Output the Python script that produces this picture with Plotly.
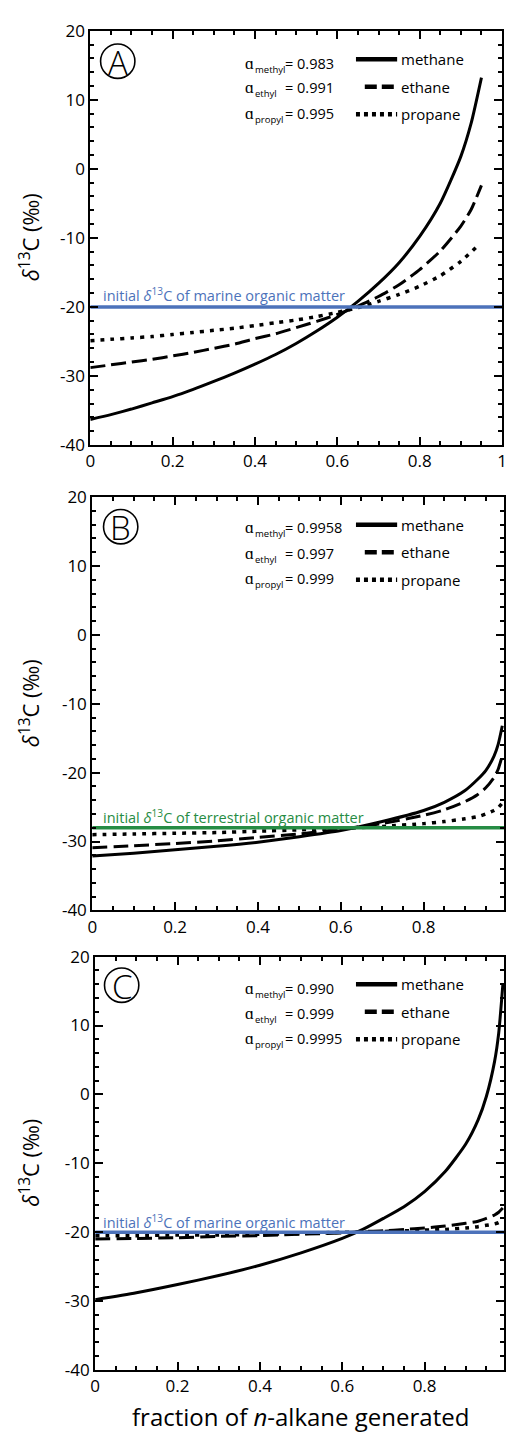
import plotly.graph_objects as go

W, H = 509, 1440
FONT = "Open Sans"

# ---------------- data ----------------
# Panel A: marine organic matter, strong fractionation
xa = [0, 0.05, 0.1, 0.15, 0.2, 0.25, 0.3, 0.35, 0.4, 0.45, 0.5, 0.55, 0.6, 0.65,
      0.7, 0.75, 0.8, 0.85, 0.9, 0.925, 0.95]
methane_a = [-36.3, -35.6, -34.8, -33.9, -33.0, -31.95, -30.8, -29.6, -28.3, -26.9, -25.3,
             -23.5, -21.5, -19.2, -16.6, -13.6, -9.8, -5.0, 1.8, 6.6, 13.2]
ethane_a = [-28.8, -28.4, -28.0, -27.6, -27.1, -26.6, -26.0, -25.4, -24.6, -23.9, -23.0,
            -22.1, -21.1, -19.9, -18.5, -16.8, -14.6, -11.9, -8.3, -5.9, -2.4]
xa_p = [0, 0.05, 0.1, 0.15, 0.2, 0.25, 0.3, 0.35, 0.4, 0.45, 0.5, 0.55, 0.6, 0.65,
        0.7, 0.75, 0.8, 0.85, 0.9, 0.94]
propane_a = [-24.9, -24.7, -24.5, -24.3, -24.0, -23.7, -23.4, -23.1, -22.7, -22.3, -21.9,
             -21.4, -20.8, -20.1, -19.2, -18.2, -17.0, -15.5, -13.4, -11.2]

# Panel B: terrestrial organic matter, weak fractionation
xb = [0, 0.1, 0.2, 0.3, 0.4, 0.5, 0.6, 0.7, 0.8, 0.85, 0.9, 0.93, 0.95, 0.97, 0.98, 0.99]
methane_b = [-32.1, -31.7, -31.2, -30.7, -30.1, -29.3, -28.4, -27.1, -25.5, -24.3, -22.6,
             -21.0, -19.7, -17.6, -15.9, -13.2]
ethane_b = [-30.9, -30.6, -30.3, -29.9, -29.4, -28.9, -28.2, -27.4, -26.2, -25.4, -24.2,
            -23.2, -22.2, -20.7, -19.5, -17.5]
propane_b = [-29.0, -28.9, -28.8, -28.7, -28.5, -28.3, -28.1, -27.8, -27.4, -27.1, -26.7,
             -26.4, -26.0, -25.5, -25.1, -24.4]

# Panel C: marine organic matter, methane-dominated fractionation
xc = [0, 0.1, 0.2, 0.3, 0.4, 0.5, 0.6, 0.65, 0.7, 0.75, 0.8, 0.85, 0.9, 0.93, 0.95,
      0.97, 0.98, 0.99]
methane_c = [-29.8, -28.8, -27.6, -26.3, -24.8, -23.0, -20.9, -19.6, -18.0, -16.3, -14.1,
             -11.2, -7.2, -3.7, -0.3, 4.8, 8.9, 15.9]
ethane_c = [-21.0, -20.9, -20.8, -20.6, -20.5, -20.3, -20.1, -19.9, -19.8, -19.6, -19.4,
            -19.1, -18.7, -18.4, -18.0, -17.5, -17.1, -16.5]
propane_c = [-20.5, -20.5, -20.4, -20.4, -20.3, -20.2, -20.0, -20.0, -19.9, -19.8, -19.7,
             -19.6, -19.4, -19.2, -19.0, -18.8, -18.6, -18.2]

# initial source values (horizontal reference lines)
ref_x = [0, 1]
initial_a = [-20, -20]
initial_b = [-28, -28]
initial_c = [-20, -20]

alpha_names = ["methyl", "ethyl", "propyl"]
alphas_a = ["0.983", "0.991", "0.995"]
alphas_b = ["0.9958", "0.997", "0.999"]
alphas_c = ["0.990", "0.999", "0.9995"]
gas_names = ["methane", "ethane", "propane"]

x_ticks = [0, 0.2, 0.4, 0.6, 0.8, 1]
x_ticktext = ["0", "0.2", "0.4", "0.6", "0.8", "1"]
y_ticks = [-40, -30, -20, -10, 0, 10, 20]
y_ticktext = ["-40", "-30", "-20", "-10", "0", "10", "20"]

BLUE = "rgb(76,114,186)"
GREEN = "rgb(38,140,68)"

# pixel boxes of the three panels: left, right, top, bottom
panels = [
    dict(l=87, r=507, t=19, b=440, xmax=1.0, letter="A",
         curves=[(xa, methane_a), (xa, ethane_a), (xa_p, propane_a)],
         ref=initial_a, refcol=BLUE, reftext="marine", alphas=alphas_a,
         circ=(115, 50), rows=[52, 77, 103], leg=[48, 76, 104], refy=287),
    dict(l=89, r=509, t=493, b=913, xmax=(509 - 89) / 422.5, letter="B",
         curves=[(xb, methane_b), (xb, ethane_b), (xb, propane_b)],
         ref=initial_b, refcol=GREEN, reftext="terrestrial", alphas=alphas_b,
         circ=(118, 523), rows=[524, 550, 576], leg=[521, 549, 577], refy=818),
    dict(l=92, r=509, t=960, b=1380, xmax=(509 - 92) / 420.0, letter="C",
         curves=[(xc, methane_c), (xc, ethane_c), (xc, propane_c)],
         ref=initial_c, refcol=BLUE, reftext="marine", alphas=alphas_c,
         circ=(119, 989), rows=[992, 1018, 1043], leg=[988, 1016, 1044], refy=1229),
]

styles = [dict(dash="solid", width=3),
          dict(dash="15px,6px", width=3),
          dict(dash="4px,6px", width=3.5)]
legend_styles = [dict(dash="solid", width=4.5, x0=358),
                 dict(dash="12px,5px", width=4.5, x0=367),
                 dict(dash="4px,4px", width=4.5, x0=358)]


def px(x):
    return x / W


def py(y):
    return 1 - y / H


def text(t, x, y, size, color="black", anchor="left", **kw):
    return dict(text=t, x=px(x), y=py(y), xref="paper", yref="paper", showarrow=False,
                xanchor=anchor, yanchor="middle", borderpad=0,
                font=dict(family=FONT, size=size, color=color, **kw.pop("fontkw", {})),
                **kw)


fig = go.Figure()
shapes = []
annotations = []
layout_axes = {}

for i, p in enumerate(panels, start=1):
    sx = "" if i == 1 else str(i)
    xref, yref = "x" + sx, "y" + sx

    for (xs, ys), st, name in zip(p["curves"], styles, gas_names):
        fig.add_trace(go.Scatter(
            x=xs, y=ys, mode="lines", name=name, showlegend=False,
            line=dict(color="black", width=st["width"], dash=st["dash"],
                      shape="spline", smoothing=0.6),
            xaxis=xref, yaxis=yref))
    fig.add_trace(go.Scatter(
        x=ref_x, y=p["ref"], mode="lines", showlegend=False,
        line=dict(color=p["refcol"], width=3.5), xaxis=xref, yaxis=yref))

    common = dict(showline=True, linecolor="black", linewidth=2, mirror="ticks",
                  ticks="inside", ticklen=8, tickwidth=2, tickcolor="black",
                  showgrid=False, zeroline=False, fixedrange=True,
                  ticklabeloverflow="allow",
                  tickfont=dict(family=FONT, size=17, color="black"))
    layout_axes["xaxis" + sx] = dict(
        common, domain=[px(p["l"]), px(p["r"])], range=[0, p["xmax"]],
        anchor=yref, tickmode="array", tickvals=x_ticks, ticktext=x_ticktext,
        minor=dict(tickmode="linear", tick0=0, dtick=0.05, ticks="inside",
                   ticklen=4, tickwidth=2, tickcolor="black"))
    layout_axes["yaxis" + sx] = dict(
        common, domain=[py(p["b"]), py(p["t"])], range=[-40, 20],
        anchor=xref, tickmode="array", tickvals=y_ticks, ticktext=y_ticktext,
        minor=dict(tickmode="linear", tick0=0, dtick=2, ticks="inside",
                   ticklen=4, tickwidth=2, tickcolor="black"))

    # panel letter in a circle
    cx, cy = p["circ"]
    shapes.append(dict(type="circle", xref="paper", yref="paper",
                       x0=px(cx - 17.5), x1=px(cx + 17.5),
                       y0=py(cy + 17.5), y1=py(cy - 17.5),
                       line=dict(color="black", width=1.6)))
    annotations.append(text(p["letter"], cx, cy + 1, 33, anchor="center",
                            fontkw=dict(weight=300)))

    # fractionation factors
    for nm, val, ry in zip(alpha_names, p["alphas"], p["rows"]):
        annotations.append(text("\u0251", 244, ry - 1, 17))
        annotations.append(text(nm, 254, ry + 6, 9.5))
        annotations.append(text("= " + val, 285, ry, 14.5))

    # line-style key
    for nm, ls, ly in zip(gas_names, legend_styles, p["leg"]):
        shapes.append(dict(type="line", xref="paper", yref="paper",
                           x0=px(ls["x0"]), x1=px(400), y0=py(ly), y1=py(ly),
                           line=dict(color="black", width=ls["width"], dash=ls["dash"])))
        annotations.append(text(nm, 403, ly, 15))

    # label of the initial value line
    annotations.append(text(
        "initial <i>\u03b4</i><sup>13</sup>C of %s organic matter" % p["reftext"],
        99, p["refy"], 14.5, color=p["refcol"]))

    # y-axis title
    annotations.append(text("<i>\u03b4</i><sup>13</sup>C (\u2030)", 25,
                            (p["t"] + p["b"]) / 2, 22, anchor="center", textangle=-90))

annotations.append(text("fraction of <i>n</i>-alkane generated", 301, 1427, 24,
                        anchor="center"))

fig.update_layout(
    width=W, height=H, autosize=False,
    margin=dict(l=0, r=0, t=0, b=0),
    paper_bgcolor="white", plot_bgcolor="white",
    font=dict(family=FONT, color="black"),
    shapes=shapes, annotations=annotations,
    **layout_axes)

fig.write_html("out.html", config={"displayModeBar": False})
